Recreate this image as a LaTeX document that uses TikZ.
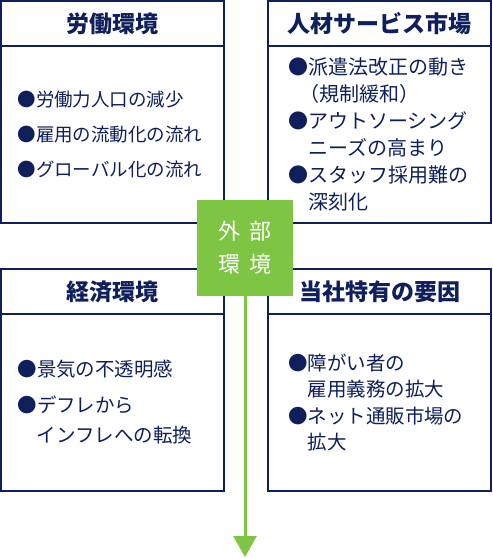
\documentclass[tikz,border=0pt]{standalone}
\usepackage{fontspec}
\setmainfont{Noto Sans CJK JP}
\usetikzlibrary{positioning,arrows.meta}

\definecolor{boxnavy}{HTML}{0E1F5B}
\definecolor{extgreen}{HTML}{7DC543}

\tikzset{
  hdrbox/.style={draw=boxnavy, line width=1.3pt, outer sep=0pt, inner sep=0pt,
    minimum width=223pt, minimum height=45pt, anchor=north west,
    text=boxnavy, font=\fontsize{23}{26}\selectfont\bfseries},
  bodybox/.style={draw=boxnavy, line width=1.3pt, outer sep=0pt, inner ysep=0pt,
    inner xsep=#1, text width=223pt-2*#1, minimum height=177pt, align=left,
    text=boxnavy},
  extbox/.style={fill=extgreen, minimum size=96pt, inner sep=0pt, align=center,
    text=white, font=\fontsize{22}{33}\selectfont}
}

\newcommand{\indentmark}{\phantom{●}}

\begin{document}
\begin{tikzpicture}[x=1pt, y=-1pt]
  \useasboundingbox (0,0) rectangle (493,558);

  % Labour environment
  \node[hdrbox] (laborhdr) at (1,1) {労働環境};
  \node[bodybox=16.5pt, font=\fontsize{18.5}{27}\selectfont,
    below=0pt of laborhdr] (laborbody) {%
    ●労働力人口の減少\\[8pt]
    ●雇用の流動化の流れ\\[8pt]
    ●グローバル化の流れ};

  % Staffing service market
  \node[hdrbox] (markethdr) at (268,1) {人材サービス市場};
  \node[bodybox=20pt, font=\fontsize{20}{26.5}\selectfont,
    below=0pt of markethdr] (marketbody) {%
    ●派遣法改正の動き\\
    \indentmark\hspace{-9pt}（規制緩和）\\[1pt]
    ●アウトソーシング\\
    \indentmark ニーズの高まり\\[1pt]
    ●スタッフ採用難の\\
    \indentmark 深刻化};

  % Economic environment
  \node[hdrbox] (econhdr) at (1,269) {経済環境};
  \node[bodybox=16.5pt, font=\fontsize{19.5}{28}\selectfont,
    below=0pt of econhdr] (econbody) {%
    ●景気の不透明感\\[8pt]
    ●デフレから\\[2pt]
    \indentmark インフレへの転換};

  % Company specific factors
  \node[hdrbox] (ownhdr) at (268,269) {当社特有の要因};
  \node[bodybox=20pt, font=\fontsize{19.5}{26.5}\selectfont,
    below=0pt of ownhdr] (ownbody) {%
    ●障がい者の\\
    \indentmark 雇用義務の拡大\\
    ●ネット通販市場の\\
    \indentmark 拡大};

  % External environment
  \node[extbox] (ext) at (245,248) {外\hspace{10pt}部\\環\hspace{10pt}境};
  \coordinate (arrowend) at (245,557);
  \draw[extgreen, line width=3pt, -{Triangle[width=23pt, length=21pt]}] (ext.south) -- (arrowend);
\end{tikzpicture}
\end{document}
